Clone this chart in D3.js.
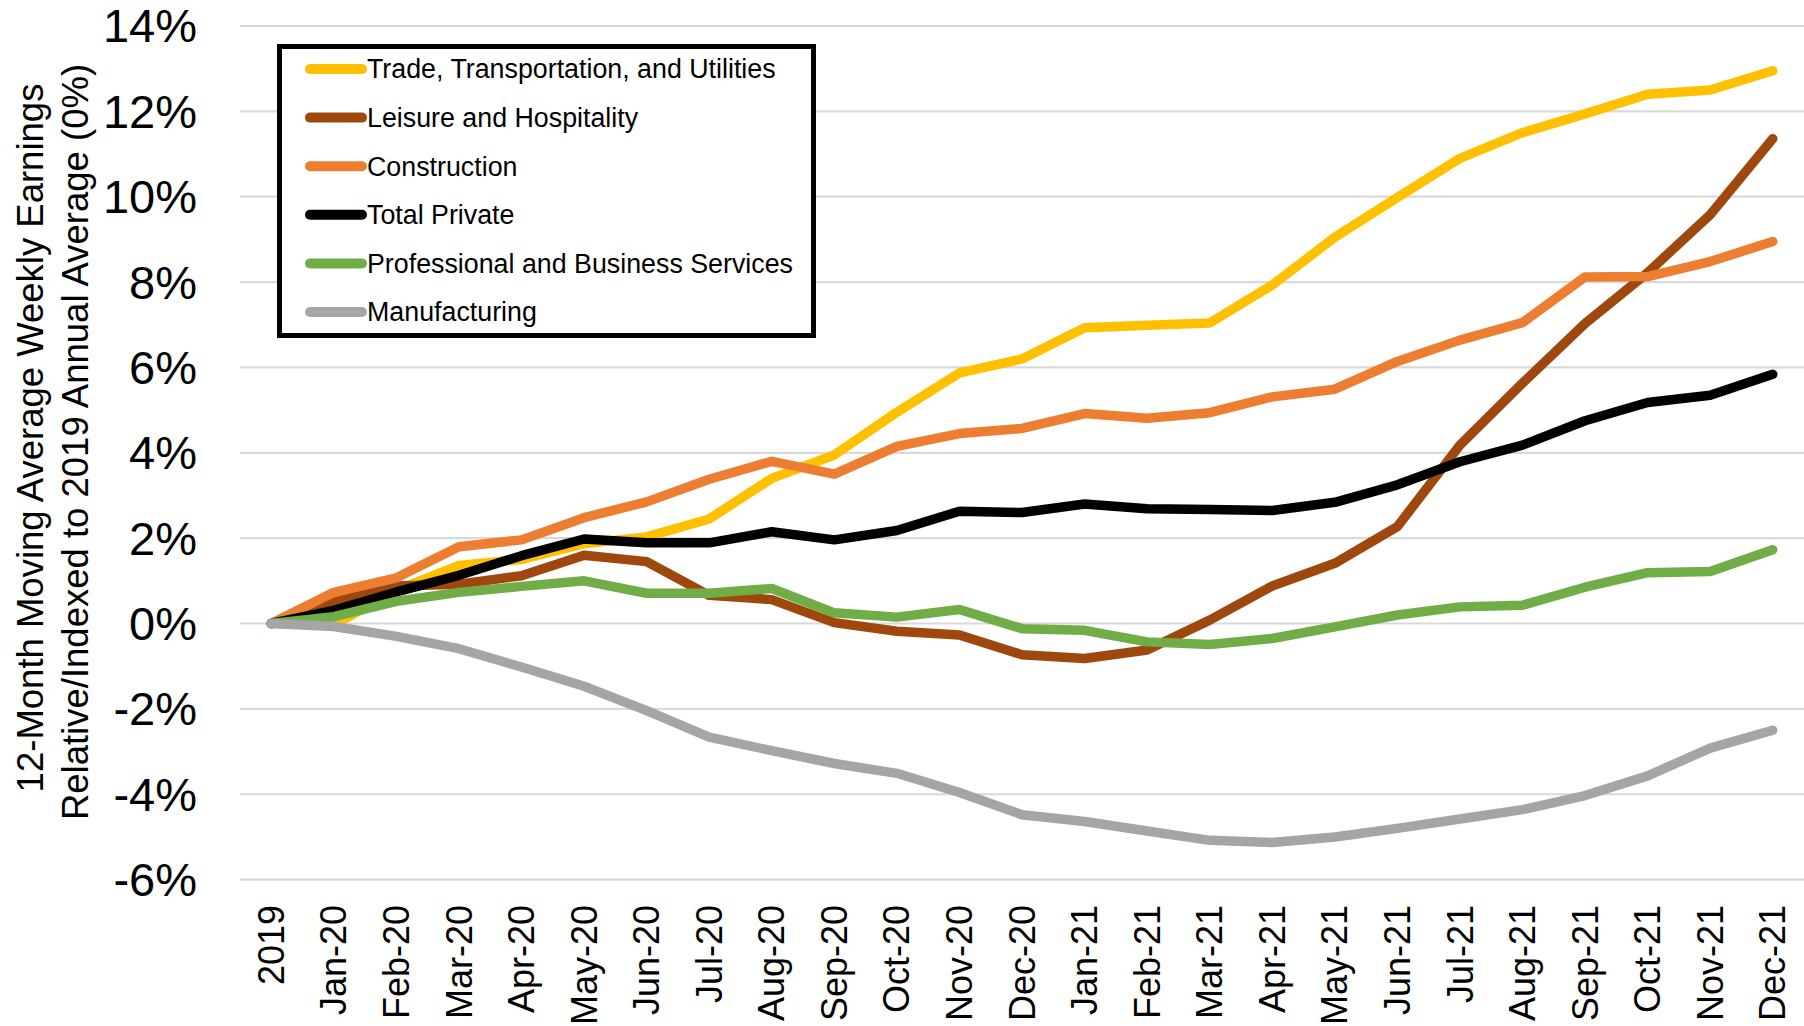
<!DOCTYPE html>
<html>
<head>
<meta charset="utf-8">
<script src="https://cdn.jsdelivr.net/npm/d3@7"></script>
<style>
  body { margin: 0; background: #fff; }
  text { font-family: "Liberation Sans", Arial, sans-serif; fill: #000; }
</style>
</head>
<body>
<div id="chart"></div>
<script>
// DATA ***********************************************
var months = ["2019", "Jan-20", "Feb-20", "Mar-20", "Apr-20", "May-20", "Jun-20", "Jul-20",
        "Aug-20", "Sep-20", "Oct-20", "Nov-20", "Dec-20", "Jan-21", "Feb-21", "Mar-21",
        "Apr-21", "May-21", "Jun-21", "Jul-21", "Aug-21", "Sep-21", "Oct-21", "Nov-21", "Dec-21"];

var trade = [0, -0.03, 0.78, 1.36, 1.5, 1.87, 2.03, 2.45, 3.4, 3.95, 4.95, 5.87, 6.2,
        6.93, 6.99, 7.04, 7.93, 9.05, 9.98, 10.9, 11.5, 11.94, 12.4, 12.5, 12.95];
var leisure = [0, 0.5, 0.88, 0.92, 1.12, 1.6, 1.45, 0.66, 0.56, 0.02, -0.18, -0.27, -0.73,
        -0.82, -0.62, 0.08, 0.88, 1.41, 2.27, 4.18, 5.63, 7.03, 8.22, 9.58, 11.36];
var construction = [0, 0.73, 1.07, 1.8, 1.96, 2.48, 2.85, 3.38, 3.8, 3.5, 4.15, 4.45, 4.57,
        4.92, 4.81, 4.94, 5.31, 5.49, 6.14, 6.64, 7.05, 8.12, 8.13, 8.48, 8.95];
var totalPrivate = [0, 0.31, 0.74, 1.13, 1.59, 1.98, 1.89, 1.89, 2.15, 1.96, 2.18, 2.63, 2.6,
        2.8, 2.69, 2.67, 2.65, 2.84, 3.25, 3.79, 4.18, 4.75, 5.18, 5.35, 5.84];
var professional = [0, 0.16, 0.52, 0.73, 0.87, 1.0, 0.71, 0.71, 0.82, 0.25, 0.15, 0.33, -0.12,
        -0.16, -0.43, -0.49, -0.35, -0.08, 0.2, 0.39, 0.43, 0.85, 1.19, 1.22, 1.73];
var manufacturing = [0, -0.07, -0.3, -0.59, -1.02, -1.47, -2.04, -2.66, -2.98, -3.28, -3.51, -3.96, -4.48,
        -4.64, -4.86, -5.08, -5.13, -5.0, -4.8, -4.58, -4.36, -4.03, -3.57, -2.92, -2.5];

var yTicks = [-6, -4, -2, 0, 2, 4, 6, 8, 10, 12, 14];

var series = [
        { name: "Trade, Transportation, and Utilities", values: trade, color: "#FFC000" },
        { name: "Leisure and Hospitality", values: leisure, color: "#9E480E" },
        { name: "Construction", values: construction, color: "#ED7D31" },
        { name: "Total Private", values: totalPrivate, color: "#000000" },
        { name: "Professional and Business Services", values: professional, color: "#70AD47" },
        { name: "Manufacturing", values: manufacturing, color: "#A5A5A5" }
];

// LAYOUT ***********************************************
var width = 1804;
var height = 1026;
var plotLeft = 240, plotRight = 1804, plotTop = 26, plotBottom = 879.6;

var svg = d3.select("#chart")
        .append("svg")
        .attr("width", width)
        .attr("height", height);

var x = d3.scaleBand()
        .domain(months)
        .range([plotLeft, plotRight]);

var y = d3.scaleLinear()
        .domain([-6, 14])
        .range([plotBottom, plotTop]);

// gridlines
svg.append("g")
        .selectAll("line")
        .data(yTicks)
        .enter()
        .append("line")
        .attr("x1", plotLeft)
        .attr("x2", plotRight)
        .attr("y1", d => y(d))
        .attr("y2", d => y(d))
        .attr("stroke", "#d9d9d9")
        .attr("stroke-width", 2.2);

// y axis labels
var yAxis = svg.append("g")
        .attr("transform", "translate(197,0)")
        .call(d3.axisLeft(y).tickValues(yTicks).tickSize(0).tickPadding(0)
                .tickFormat(d => d + "%"));
yAxis.select(".domain").remove();
yAxis.selectAll("text")
        .attr("font-size", 47)
        .attr("font-family", "Liberation Sans, Arial, sans-serif")
        .attr("fill", "#000")
        .attr("dy", "0.34em");

// x axis labels
var xAxis = svg.append("g")
        .attr("transform", "translate(0,905)")
        .call(d3.axisBottom(x).tickSize(0).tickPadding(0));
xAxis.select(".domain").remove();
xAxis.selectAll("text")
        .attr("font-size", 36)
        .attr("font-family", "Liberation Sans, Arial, sans-serif")
        .attr("fill", "#000")
        .attr("text-anchor", "end")
        .attr("transform", "rotate(-90)")
        .attr("x", 0)
        .attr("y", 0)
        .attr("dy", "0.35em");

// y axis title
var title = svg.append("g");
title.append("text")
        .attr("transform", "translate(43,438) rotate(-90)")
        .attr("text-anchor", "middle")
        .attr("font-size", 36.5)
        .text("12-Month Moving Average Weekly Earnings");
title.append("text")
        .attr("transform", "translate(88,442) rotate(-90)")
        .attr("text-anchor", "middle")
        .attr("font-size", 36.5)
        .text("Relative/Indexed to 2019 Annual Average (0%)");

// lines
var line = d3.line()
        .x((d, i) => x(months[i]) + x.bandwidth() / 2)
        .y(d => y(d));

svg.append("g")
        .selectAll("path")
        .data(series)
        .enter()
        .append("path")
        .attr("d", d => line(d.values))
        .attr("fill", "none")
        .attr("stroke", d => d.color)
        .attr("stroke-width", 9.5)
        .attr("stroke-linejoin", "round")
        .attr("stroke-linecap", "round");

// legend
var legend = svg.append("g");
legend.append("rect")
        .attr("x", 279.5)
        .attr("y", 46.5)
        .attr("width", 534)
        .attr("height", 289)
        .attr("fill", "white")
        .attr("stroke", "#000")
        .attr("stroke-width", 5);

var rowY = d3.scalePoint()
        .domain(series.map(d => d.name))
        .range([69, 312]);

var item = legend.selectAll(".item")
        .data(series)
        .enter()
        .append("g")
        .attr("class", "item")
        .attr("transform", d => "translate(0," + rowY(d.name) + ")");

item.append("line")
        .attr("x1", 310)
        .attr("x2", 362)
        .attr("stroke", d => d.color)
        .attr("stroke-width", 10)
        .attr("stroke-linecap", "round");

item.append("text")
        .attr("x", 367)
        .attr("dy", "0.35em")
        .attr("font-size", 26.8)
        .text(d => d.name);
</script>
</body>
</html>
